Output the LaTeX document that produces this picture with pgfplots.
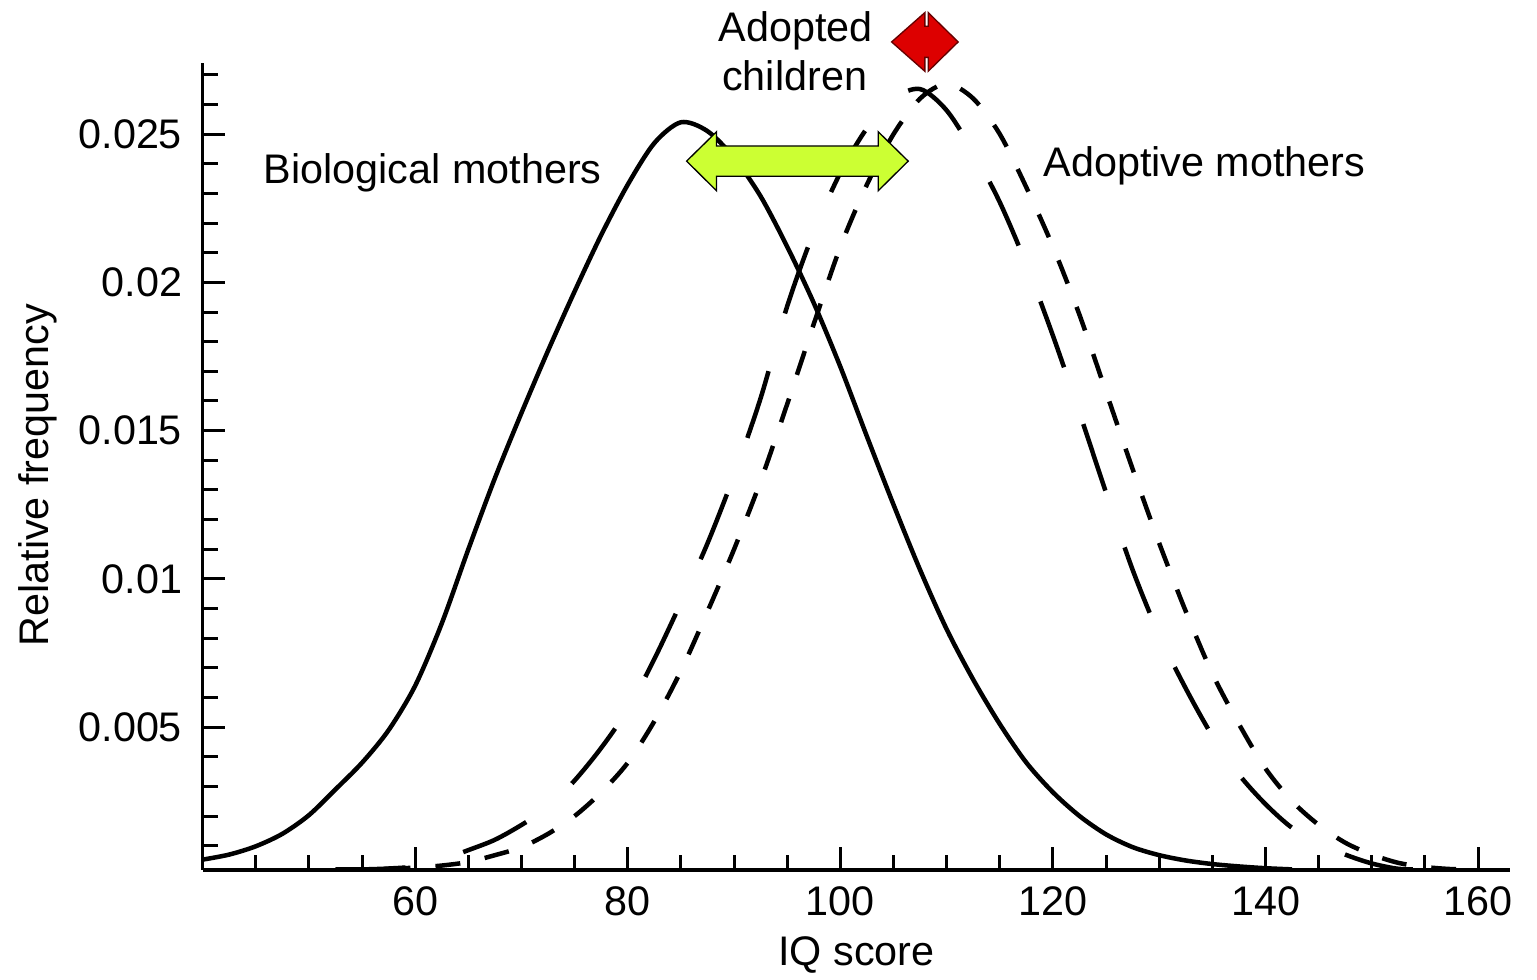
\documentclass[border=0pt]{standalone}
\usepackage{pgfplots}
\pgfplotsset{compat=1.18}
\usepackage{fontspec}
\setmainfont{Liberation Sans}
\definecolor{limegr}{RGB}{204,255,51}
\definecolor{redarrow}{RGB}{221,0,0}

\begin{document}
\begin{tikzpicture}[font=\fontsize{12.4}{14.9}\selectfont]
\path (-60.8pt,-33pt) rectangle (400.3pt,261pt);
\begin{axis}[name=ax, at={(0,0)}, anchor=south west,
 scale only axis, width=392.2pt, height=242.1pt,
 xmin=40, xmax=163, ymin=0.00018, ymax=0.0274,
 axis lines=left, axis line style={-, line width=1pt, black},
 clip mode=individual,
 tick align=inside, major tick length=6.8pt, minor tick length=4.6pt,
 tick style={line width=0.9pt, black},
 xtick={60,80,100,120,140,160}, xticklabels={60,80,100,120,140,160},
 minor xtick={45,50,55,65,70,75,85,90,95,105,110,115,125,130,135,145,150,155},
 ytick={0.005,0.01,0.015,0.02,0.025}, yticklabels={0.005,0.01,0.015,0.02,0.025},
 minor ytick={0.001,0.002,0.003,0.004,0.006,0.007,0.008,0.009,0.011,0.012,0.013,0.014,0.016,0.017,0.018,0.019,0.021,0.022,0.023,0.024,0.026,0.027},
 scaled y ticks=false, scaled x ticks=false,
 /pgf/number format/assume math mode=true,
 xticklabel style={inner sep=0pt, anchor=north, yshift=-4.8pt},
 yticklabel style={inner sep=0pt, anchor=east, xshift=-6pt},
 tick label style={font=\fontsize{12.4}{14.9}\selectfont},
]
% Biological mothers (solid)
\addplot[black, line width=1.35pt, smooth] coordinates {
(40,0.00053) (42.5,0.0007) (45,0.00098) (47.5,0.0014) (50,0.00203) (52.5,0.0029)
(55,0.0038) (57.5,0.0049) (60,0.0064) (62.5,0.0085) (65,0.0110) (67.5,0.0134)
(70,0.0156) (72.5,0.0177) (75,0.0197) (77.5,0.0216) (80,0.0233) (82.5,0.0247)
(85,0.0254) (87.5,0.0251) (90,0.0242) (92.5,0.0229) (95,0.0212) (97.5,0.0193)
(100,0.01715) (102.5,0.0148) (105,0.0125) (107.5,0.0103) (110,0.0083) (112.5,0.0066)
(115,0.0051) (117.5,0.0038) (120,0.0028) (122.5,0.0020) (125,0.00138) (127.5,0.00095)
(130,0.00068) (132.5,0.0005) (135,0.00038) (137.5,0.0003) (140,0.00024) (142.5,0.0002)
};
% Adopted children (long dash)
\addplot[black, line width=1.35pt, dash pattern=on 21pt off 18pt, smooth] coordinates {
(52.5,0.0002) (55,0.0002) (57.5,0.00023) (60,0.0003) (62.5,0.00052) (65,0.00085)
(67.5,0.0012) (70,0.0017) (72.5,0.0023) (75,0.0032) (77.5,0.0043) (80,0.0056)
(82.5,0.0073) (85,0.0092) (87.5,0.0112) (90,0.0135) (92.5,0.0161) (95,0.0192)
(97.5,0.0217) (100,0.0237) (102.5,0.0252) (105,0.0262) (107.5,0.02652) (110,0.0258)
(112.5,0.0244) (115,0.0227) (117.5,0.0206) (120,0.0182) (122.5,0.0156) (125,0.0129)
(127.5,0.0103) (130,0.0081) (132.5,0.0063) (135,0.0047) (137.5,0.0034) (140,0.0024)
(142.5,0.0016) (145,0.0011) (147.5,0.0007) (150,0.0004) (152.5,0.00022) (155,0.0002)
};
% Adoptive mothers (short dash)
\addplot[black, line width=1.35pt, dash pattern=on 7.5pt off 7.5pt, smooth] coordinates {
(52.5,0.0002) (55,0.0002) (57.5,0.00022) (60,0.00026) (62.5,0.00033) (65,0.00045)
(67.5,0.00068) (70,0.00095) (72.5,0.0014) (75,0.002) (77.5,0.0028) (80,0.0038)
(82.5,0.0052) (85,0.0069) (87.5,0.0089) (90,0.0110) (92.5,0.0133) (95,0.0159)
(97.5,0.0186) (100,0.0212) (102.5,0.0233) (105,0.0250) (107.5,0.0262) (110,0.0267)
(112.5,0.0262) (115,0.0250) (117.5,0.0232) (120,0.0212) (122.5,0.0189) (125,0.0163)
(127.5,0.0137) (130,0.0112) (132.5,0.0089) (135,0.0068) (137.5,0.0051) (140,0.0036)
(142.5,0.0025) (145,0.0017) (147.5,0.0011) (150,0.0007) (152.5,0.00042) (155,0.00028)
(157.5,0.00021) (160,0.0002)
};
% green double arrow
\draw[fill=limegr, draw=black, line width=0.4pt]
 (axis cs:85.53,0.02409) -- (axis cs:88.35,0.02508) -- (axis cs:88.35,0.0246)
 -- (axis cs:103.56,0.0246) -- (axis cs:103.56,0.02508) -- (axis cs:106.38,0.02409)
 -- (axis cs:103.56,0.02309) -- (axis cs:103.56,0.02358) -- (axis cs:88.35,0.02358)
 -- (axis cs:88.35,0.02309) -- cycle;
% red double arrow
\draw[fill=redarrow, draw=black!60!red, line width=0.4pt]
 (axis cs:104.82,0.02811) -- (axis cs:107.95,0.0291) -- (axis cs:107.95,0.02864)
 -- (axis cs:108.26,0.02864) -- (axis cs:108.26,0.0291) -- (axis cs:111.08,0.02811)
 -- (axis cs:108.26,0.02712) -- (axis cs:108.26,0.02759) -- (axis cs:107.95,0.02759)
 -- (axis cs:107.95,0.02712) -- cycle;
\node[anchor=base west, inner sep=0pt] at (axis cs:45.7,0.02334) {Biological mothers};
\node[anchor=base west, inner sep=0pt] at (axis cs:119.05,0.02356) {Adoptive mothers};
\node[anchor=base, inner sep=0pt] at (axis cs:95.8,0.02811) {Adopted};
\node[anchor=base, inner sep=0pt] at (axis cs:95.7,0.02648) {children};
\end{axis}
\node[rotate=90, anchor=base, inner sep=0pt] at ([xshift=-46.3pt,yshift=-2.6pt]ax.west) {Relative frequency};
\node[anchor=base, inner sep=0pt] at ([yshift=-28.8pt]ax.south) {IQ score};
\end{tikzpicture}
\end{document}
